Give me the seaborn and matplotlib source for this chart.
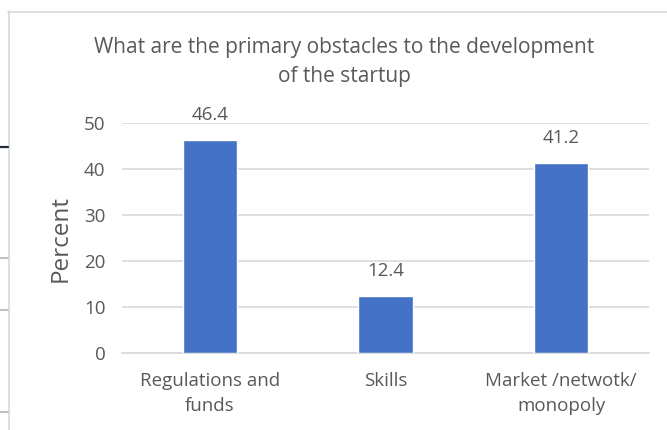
import matplotlib
matplotlib.use("Agg")
import matplotlib.pyplot as plt
from matplotlib.lines import Line2D
import seaborn as sns
import pandas as pd

categories = ["Regulations and\nfunds", "Skills", "Market /netwotk/\nmonopoly"]
percent = [46.4, 12.4, 41.2]
y_ticks = [0, 10, 20, 30, 40, 50]
title = "What are the primary obstacles to the development\nof the startup"

BAR = "#4472C4"
TXT = "#595959"
GRID = "#D9D9D9"

sns.set_theme(style="white")
plt.rcParams["font.family"] = ["Open Sans", "DejaVu Sans"]

W, H = 667, 430
fig = plt.figure(figsize=(W / 100, H / 100), dpi=100)
ax = fig.add_axes([122 / W, (H - 353) / H, (649 - 122) / W, (353 - 123) / H])

df = pd.DataFrame({"category": categories, "percent": percent})
sns.barplot(data=df, x="category", y="percent", color=BAR, width=0.31,
            saturation=1, ax=ax, zorder=3)

ax.set_ylim(0, 50)
ax.set_xlim(-0.5, 2.5)
ax.set_yticks(y_ticks)
ax.yaxis.grid(True, color=GRID, linewidth=1.2, zorder=0)
ax.set_axisbelow(True)
for s in ["top", "right", "left"]:
    ax.spines[s].set_visible(False)
ax.spines["bottom"].set_color(GRID)
ax.spines["bottom"].set_linewidth(1.2)

ax.tick_params(axis="both", length=0, labelsize=13.5, colors=TXT)
ax.tick_params(axis="y", pad=12)
ax.tick_params(axis="x", pad=14)
ax.set_xlabel("")
ax.set_ylabel("Percent", fontsize=17.5, color=TXT)
ax.yaxis.set_label_coords((73 - 122) / (649 - 122), 0.5)
for lbl in ax.get_xticklabels():
    lbl.set_linespacing(1.45)

for i, v in enumerate(percent):
    ax.annotate(f"{v}", xy=(i, v), xytext=(0, 18), textcoords="offset points",
                ha="center", va="center", fontsize=13.5, color=TXT,
                annotation_clip=False)

fig.text(344 / W, 1 - 62 / H, title, ha="center", va="center", fontsize=15,
         color=TXT, linespacing=1.55)

# chart frame and page rules at the left margin
def px_line(x0, x1, y0, y1, color, lw):
    fig.add_artist(Line2D([x0 / W, x1 / W], [1 - y0 / H, 1 - y1 / H],
                          transform=fig.transFigure, color=color, linewidth=lw))

px_line(8, W, 11.5, 11.5, "#D9D9D9", 1.2)
px_line(8.5, 8.5, 11, H, "#D9D9D9", 1.2)
px_line(0, 8, 147, 147, "#1F2D3D", 1.6)
for yy in (258, 310, 412):
    px_line(0, 8, yy, yy, "#BFBFBF", 1.4)

fig.savefig("out.png", dpi=100, facecolor="white")
